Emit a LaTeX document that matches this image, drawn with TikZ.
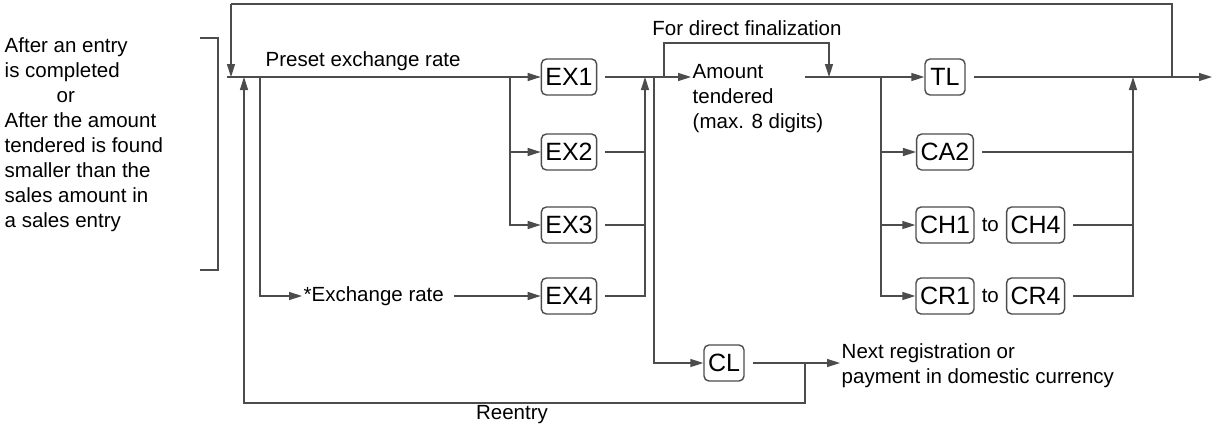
\documentclass[tikz,border=0pt]{standalone}
\usepackage{fontspec}
\setmainfont{Liberation Sans}
\usetikzlibrary{arrows.meta,positioning}
\begin{document}
\begin{tikzpicture}[x=1pt,y=-1pt,>={Triangle[length=13pt,width=8pt]},
    line width=1.4pt, draw=black!70,
    every node/.style={font=\fontsize{20.5}{25}\selectfont},
    key/.style={draw=black!70,rounded corners=5pt,minimum width=40pt,minimum height=36pt,inner sep=4pt,font=\fontsize{25}{28}\selectfont},
    lbl/.style={inner sep=1pt,align=left},
    gap/.style={shorten <=8pt}]
  \useasboundingbox (0,0) rectangle (1215,434);

  % start condition
  \node[lbl,anchor=north west] (cond) at (3,36) {After an entry\\is completed\\\hspace{52pt}or\\After the amount\\tendered is found\\smaller than the\\sales amount in\\a sales entry};
  \draw (200,38) -- (218,38) -- (218,270) -- (200,270);

  % keys
  \node[key] (ex1) at (569,77) {EX1};
  \node[key] (ex2) at (569,152) {EX2};
  \node[key] (ex3) at (569,225) {EX3};
  \node[key] (ex4) at (569,296) {EX4};
  \node[key] (cl) at (724,363) {CL};
  \node[key] (tl) at (945,77) {TL};
  \node[key] (ca2) at (945,152) {CA2};
  \node[key] (ch1) at (945,225) {CH1};
  \node[key] (cr1) at (945,296) {CR1};
  \node (to1) [right=3pt of ch1] {to};
  \node (to2) [right=3pt of cr1] {to};
  \node[key] (ch4) [right=3pt of to1] {CH4};
  \node[key] (cr4) [right=3pt of to2] {CR4};

  % texts
  \node[lbl,anchor=south west] (preset) at (264,72) {Preset exchange rate};
  \node[lbl,anchor=west] (xrate) at (302,296) {*Exchange rate};
  \node[lbl,anchor=north west] (amt) at (691,63) {Amount\\tendered\\(max. 8 digits)};
  \node[lbl,anchor=south] (direct) at (747,37) {For direct finalization};
  \node[lbl,anchor=west] (next) at (840,366) {Next registration or\\payment in domestic currency};
  \node[lbl,anchor=north] (reentry) at (512,404) {Reentry};

  \coordinate (start) at (227,77);
  \coordinate (join) at (881,77);
  \coordinate (out) at (1212,77);

  % entry side
  \draw[->] (231,4) -- (231,77);
  \draw (start) -- (260,77);
  \draw[->] (260,77) -- (ex1);
  \draw[->] (260,77) |- (xrate);
  \draw[->,gap] (xrate) -- (ex4);
  \draw[->] (510,77) |- (ex2);
  \draw[->] (510,77) |- (ex3);

  % after EX keys
  \draw[gap] (ex2.east) -- (645,152);
  \draw[gap] (ex3.east) -- (645,225);
  \draw[->,gap] (ex4.east) -| (645,77);
  \draw[->,gap] (ex1.east) -- (amt.west |- ex1);
  \draw[->] (654,77) |- (cl);
  \draw[->] (664,77) |- (829,43) -- (829,77);
  \draw (805,77) -- (join);

  % finalization keys
  \draw[->] (join) -- (tl);
  \draw[->] (join) |- (ca2);
  \draw[->] (join) |- (ch1);
  \draw[->] (join) |- (cr1);
  \draw[gap] (tl.east) -- (1172,77);
  \draw[->] (1172,77) -- (out);
  \draw[gap] (ca2.east) -- (1133,152);
  \draw[gap] (ch4.east) -- (1133,225);
  \draw[->,gap] (cr4.east) -| (1133,77);
  \draw (1172,77) -- (1172,4) -- (231,4);

  % clear and reentry
  \draw[->,gap] (cl.east) -- (next.west |- cl);
  \draw[->] (805,363) |- (244,403) -- (244,77);
\end{tikzpicture}
\end{document}
